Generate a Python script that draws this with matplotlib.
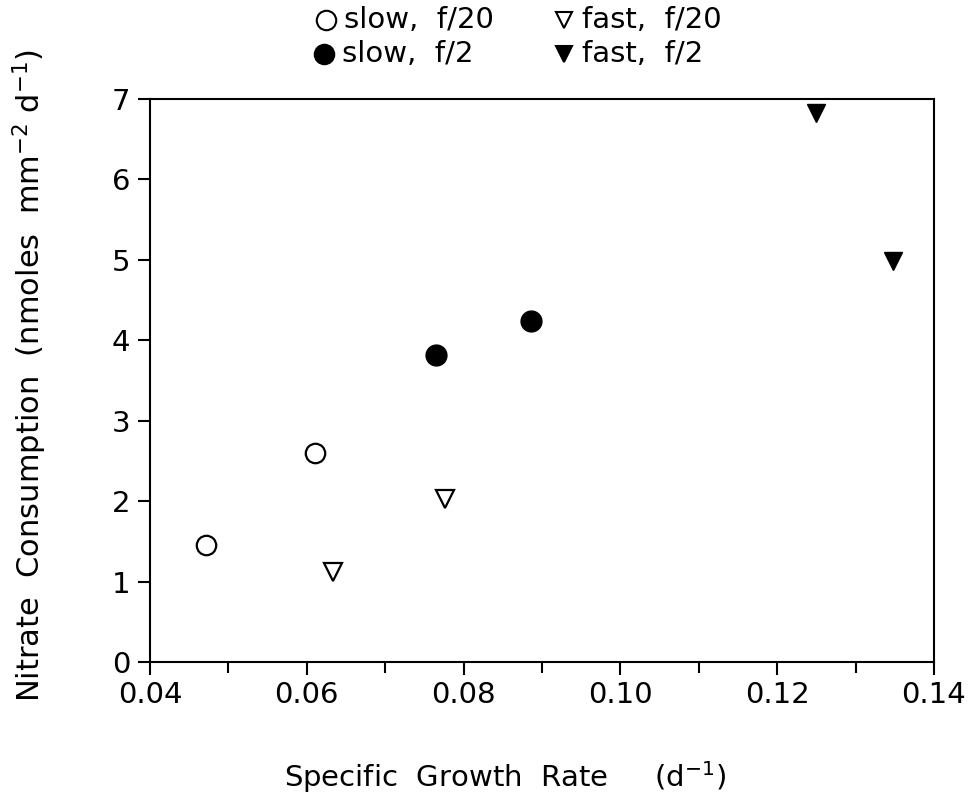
import matplotlib
matplotlib.use("Agg")
import matplotlib.pyplot as plt
from matplotlib.ticker import MultipleLocator
from matplotlib.lines import Line2D

plt.rcParams['font.family'] = ['DejaVu Sans']

slow_f20_x = [0.0471, 0.0610]
slow_f20_y = [1.45, 2.60]
fast_f20_x = [0.0633, 0.0776]
fast_f20_y = [1.12, 2.03]
slow_f2_x = [0.0765, 0.0886]
slow_f2_y = [3.82, 4.24]
fast_f2_x = [0.1250, 0.1348]
fast_f2_y = [6.83, 4.99]

fig = plt.figure(figsize=(9.74, 8.02), dpi=100)
ax = fig.add_axes([150/974, 1-662/802, (934-150)/974, (662-99)/802])

ms = 14
ax.plot(slow_f20_x, slow_f20_y, 'o', ms=ms, mfc='white', mec='black', mew=1.6, ls='none', clip_on=False)
ax.plot(fast_f20_x, fast_f20_y, 'v', ms=ms-1, mfc='white', mec='black', mew=1.6, ls='none', clip_on=False)
ax.plot(slow_f2_x, slow_f2_y, 'o', ms=ms+1, mfc='black', mec='black', ls='none', clip_on=False)
ax.plot(fast_f2_x, fast_f2_y, 'v', ms=ms-1, mfc='black', mec='black', ls='none', clip_on=False)

ax.set_xlim(0.04, 0.14)
ax.set_ylim(0, 7)
ax.xaxis.set_major_locator(MultipleLocator(0.02))
ax.xaxis.set_minor_locator(MultipleLocator(0.01))
ax.yaxis.set_major_locator(MultipleLocator(1))
ax.xaxis.set_major_formatter(plt.FuncFormatter(lambda v, p: f"{v:.2f}"))
ax.tick_params(axis='both', which='major', direction='out', length=9, width=1.5, labelsize=21, pad=5)
ax.tick_params(axis='x', which='minor', direction='out', length=8, width=1.5)
for s in ax.spines.values():
    s.set_linewidth(1.5)

fig.text(505/974, 1-777/802, r'Specific  Growth  Rate     (d$^{-1}$)', ha='center', va='center', fontsize=21)
fig.text(30/974, 1-375/802, r'Nitrate  Consumption  (nmoles  mm$^{-2}$ d$^{-1}$)', ha='center', va='center', rotation=90, fontsize=22)

# legend at top
leg = [
    (326, 20, 'o', 'white', 'slow,  f/20'),
    (324, 54, 'o', 'black', 'slow,  f/2'),
    (564, 20, 'v', 'white', 'fast,  f/20'),
    (564, 54, 'v', 'black', 'fast,  f/2'),
]
for x, y, m, fc, lab in leg:
    fig.lines.append(Line2D([x/974], [1-y/802], marker=m, ms=14 if m == 'o' else 12,
                            mfc=fc, mec='black', mew=1.5, ls='none', transform=fig.transFigure))
    fig.text((x+18)/974, 1-y/802, lab, ha='left', va='center', fontsize=21)

fig.savefig('out.png', dpi=100)
